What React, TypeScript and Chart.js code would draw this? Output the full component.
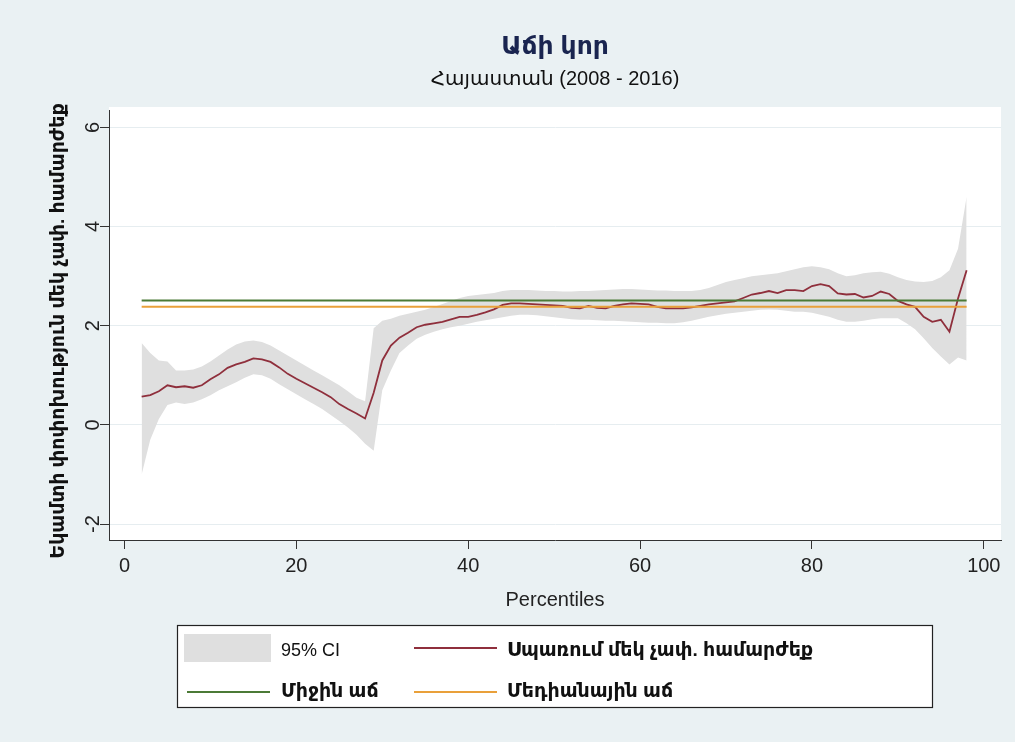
import React, { useEffect, useRef } from "react";
import { Chart, registerables } from "chart.js";

Chart.register(...registerables);

const titleText = "Աճի կոր";
const subtitleText = "Հայաստան (2008 - 2016)";
const yAxisTitle = "Եկամտի փոփոխություն մեկ չափ. համարժեք";
const xAxisTitle = "Percentiles";
const ciLabel = "95% CI";
const growthLabel = "Սպառում մեկ չափ. համարժեք";
const meanLabel = "Միջին աճ";
const medianLabel = "Մեդիանային աճ";

const xTicks = [0, 20, 40, 60, 80, 100];
const yTicks = [-2, 0, 2, 4, 6];

const percentiles = [
  2, 3, 4, 5, 6, 7, 8, 9, 10, 11,
  12, 13, 14, 15, 16, 17, 18, 19, 20, 21,
  22, 23, 24, 25, 26, 27, 28, 29, 30, 31,
  32, 33, 34, 35, 36, 37, 38, 39, 40, 41,
  42, 43, 44, 45, 46, 47, 48, 49, 50, 51,
  52, 53, 54, 55, 56, 57, 58, 59, 60, 61,
  62, 63, 64, 65, 66, 67, 68, 69, 70, 71,
  72, 73, 74, 75, 76, 77, 78, 79, 80, 81,
  82, 83, 84, 85, 86, 87, 88, 89, 90, 91,
  92, 93, 94, 95, 96, 97, 98,
];

const growthValues = [
  0.57, 0.60, 0.68, 0.80, 0.76, 0.78, 0.75, 0.80, 0.92, 1.02,
  1.15, 1.22, 1.27, 1.34, 1.32, 1.27, 1.16, 1.03, 0.93, 0.84,
  0.75, 0.66, 0.56, 0.42, 0.32, 0.23, 0.13, 0.65, 1.30, 1.60,
  1.76, 1.86, 1.97, 2.02, 2.05, 2.08, 2.13, 2.18, 2.18, 2.22,
  2.27, 2.33, 2.42, 2.45, 2.45, 2.44, 2.43, 2.42, 2.41, 2.40,
  2.36, 2.35, 2.40, 2.36, 2.35, 2.40, 2.43, 2.45, 2.44, 2.43,
  2.38, 2.35, 2.35, 2.35, 2.37, 2.40, 2.43, 2.45, 2.47, 2.49,
  2.56, 2.63, 2.66, 2.70, 2.66, 2.72, 2.72, 2.70, 2.80, 2.84,
  2.80, 2.65, 2.63, 2.64, 2.57, 2.60, 2.69, 2.64, 2.50, 2.43,
  2.38, 2.18, 2.08, 2.12, 1.88, 2.55, 3.12,
];

const ciUpper = [
  1.65, 1.45, 1.30, 1.28, 1.10, 1.10, 1.12, 1.18, 1.28, 1.40,
  1.52, 1.62, 1.68, 1.70, 1.67, 1.60, 1.50, 1.40, 1.30, 1.20,
  1.10, 1.00, 0.90, 0.80, 0.68, 0.55, 0.48, 1.95, 2.10, 2.14,
  2.20, 2.24, 2.28, 2.32, 2.38, 2.44, 2.50, 2.56, 2.60, 2.62,
  2.64, 2.66, 2.70, 2.72, 2.72, 2.72, 2.71, 2.70, 2.70, 2.69,
  2.69, 2.70, 2.70, 2.71, 2.72, 2.73, 2.74, 2.74, 2.73, 2.72,
  2.71, 2.71, 2.70, 2.70, 2.70, 2.72, 2.76, 2.82, 2.88, 2.92,
  2.96, 3.00, 3.02, 3.04, 3.06, 3.10, 3.14, 3.18, 3.20, 3.18,
  3.14, 3.06, 3.00, 3.02, 3.06, 3.08, 3.09, 3.05, 2.98, 2.92,
  2.89, 2.88, 2.90, 2.98, 3.12, 3.55, 4.60,
];

const ciLower = [
  -1.00, -0.30, 0.12, 0.40, 0.45, 0.42, 0.45, 0.52, 0.60, 0.70,
  0.78, 0.86, 0.95, 1.02, 1.00, 0.93, 0.82, 0.72, 0.62, 0.52,
  0.42, 0.32, 0.20, 0.08, -0.05, -0.20, -0.38, -0.52, 0.70, 1.10,
  1.45, 1.60, 1.74, 1.82, 1.88, 1.93, 1.97, 2.00, 2.04, 2.08,
  2.11, 2.14, 2.17, 2.20, 2.22, 2.22, 2.21, 2.19, 2.17, 2.15,
  2.13, 2.12, 2.12, 2.11, 2.10, 2.10, 2.09, 2.08, 2.07, 2.06,
  2.06, 2.05, 2.05, 2.07, 2.10, 2.14, 2.18, 2.21, 2.24, 2.26,
  2.28, 2.30, 2.32, 2.33, 2.32, 2.30, 2.28, 2.28, 2.26, 2.22,
  2.18, 2.12, 2.08, 2.08, 2.10, 2.13, 2.15, 2.15, 2.15, 2.05,
  1.93, 1.75, 1.55, 1.38, 1.22, 1.36, 1.30,
];

const meanGrowth = 2.51;
const medianGrowth = 2.385;

const FONT = "'Liberation Sans', 'DejaVu Sans', Arial, sans-serif";
const BG = "#eaf1f3";
const CI_COLOR = "#dfdfdf";
const RED = "#8f2f3c";
const GREEN = "#4b7a36";
const ORANGE = "#e9a03a";

const decorPlugin = {
  id: "decor",
  beforeDraw(chart: any) {
    const { ctx, chartArea: a, width, height } = chart;
    ctx.save();
    ctx.fillStyle = BG;
    ctx.fillRect(0, 0, width, height);
    ctx.fillStyle = "#ffffff";
    ctx.fillRect(a.left, a.top - 3, a.right - a.left, a.bottom - a.top + 3);
    ctx.restore();
  },
  afterDraw(chart: any) {
    const { ctx, chartArea: a, scales } = chart;
    const cx = (a.left + a.right) / 2;
    ctx.save();
    ctx.textAlign = "center";
    ctx.textBaseline = "middle";

    ctx.fillStyle = "#1a2550";
    ctx.font = `bold 25px ${FONT}`;
    ctx.fillText(titleText, cx, 47);

    ctx.fillStyle = "#111111";
    ctx.font = `20px ${FONT}`;
    ctx.fillText(subtitleText, cx, 79);

    ctx.fillStyle = "#222222";
    ctx.font = `20px ${FONT}`;
    for (const v of yTicks) {
      const y = scales.y.getPixelForValue(v);
      ctx.save();
      ctx.translate(93, y);
      ctx.rotate(-Math.PI / 2);
      ctx.fillText(String(v), 0, 0);
      ctx.restore();
    }

    ctx.save();
    ctx.translate(59, (a.top + a.bottom) / 2 + 6);
    ctx.rotate(-Math.PI / 2);
    ctx.font = `bold 19px ${FONT}`;
    ctx.fillStyle = "#111111";
    ctx.fillText(yAxisTitle, 0, 0);
    ctx.restore();

    ctx.font = `20px ${FONT}`;
    ctx.fillStyle = "#222222";
    ctx.fillText(xAxisTitle, cx, 600);

    // legend
    const bx = 177.5, by = 625.5, bw = 755, bh = 82;
    ctx.fillStyle = "#ffffff";
    ctx.fillRect(bx, by, bw, bh);
    ctx.strokeStyle = "#222222";
    ctx.lineWidth = 1.2;
    ctx.strokeRect(bx, by, bw, bh);

    const ds = chart.data.datasets;
    ctx.textAlign = "left";
    const row1 = 650, row2 = 692;
    ctx.fillStyle = ds[0].backgroundColor;
    ctx.fillRect(184, 634, 87, 28);
    ctx.fillStyle = "#111111";
    ctx.font = `18px ${FONT}`;
    ctx.fillText(ciLabel, 281, row1 + 1);

    const legendLine = (x: number, y: number, color: string) => {
      ctx.strokeStyle = color;
      ctx.lineWidth = 2;
      ctx.beginPath();
      ctx.moveTo(x, y);
      ctx.lineTo(x + 83, y);
      ctx.stroke();
    };
    ctx.font = `bold 19px ${FONT}`;
    legendLine(414, row1 - 2, ds[2].borderColor);
    ctx.fillStyle = "#111111";
    ctx.fillText(growthLabel, 507, row1 + 1);
    legendLine(187, row2, ds[3].borderColor);
    ctx.fillStyle = "#111111";
    ctx.fillText(meanLabel, 281, row2);
    legendLine(414, row2, ds[4].borderColor);
    ctx.fillStyle = "#111111";
    ctx.fillText(medianLabel, 507, row2);
    ctx.restore();
  },
};

export default function App() {
  const ref = useRef<HTMLCanvasElement | null>(null);

  useEffect(() => {
    document.body.style.margin = "0";
    const canvas = ref.current;
    if (!canvas) return;
    const pts = (vals: number[]) => percentiles.map((p, i) => ({ x: p, y: vals[i] }));
    const first = percentiles[0];
    const last = percentiles[percentiles.length - 1];

    const chart = new Chart(canvas, {
      type: "line",
      data: {
        datasets: [
          {
            label: ciLabel,
            data: pts(ciUpper),
            borderWidth: 0,
            borderColor: "rgba(0,0,0,0)",
            backgroundColor: CI_COLOR,
            pointRadius: 0,
            fill: "+1",
            order: 5,
          },
          {
            label: ciLabel + " lower",
            data: pts(ciLower),
            borderWidth: 0,
            borderColor: "rgba(0,0,0,0)",
            backgroundColor: CI_COLOR,
            pointRadius: 0,
            fill: false,
            order: 5,
          },
          {
            label: growthLabel,
            data: pts(growthValues),
            borderColor: RED,
            borderWidth: 1.8,
            pointRadius: 0,
            fill: false,
            order: 3,
          },
          {
            label: meanLabel,
            data: [
              { x: first, y: meanGrowth },
              { x: last, y: meanGrowth },
            ],
            borderColor: GREEN,
            borderWidth: 2,
            pointRadius: 0,
            fill: false,
            order: 2,
          },
          {
            label: medianLabel,
            data: [
              { x: first, y: medianGrowth },
              { x: last, y: medianGrowth },
            ],
            borderColor: ORANGE,
            borderWidth: 2,
            pointRadius: 0,
            fill: false,
            order: 1,
          },
        ],
      },
      options: {
        animation: false,
        responsive: false,
        devicePixelRatio: 1,
        layout: { padding: { top: 110, right: 14, left: 0, bottom: 0 } },
        plugins: {
          legend: { display: false },
          title: { display: false },
          tooltip: { enabled: false },
        },
        scales: {
          x: {
            type: "linear",
            min: -1.8,
            max: 102,
            afterBuildTicks: (s: any) => {
              s.ticks = xTicks.map((v) => ({ value: v }));
            },
            afterFit: (s: any) => {
              s.height = 202;
            },
            grid: {
              drawOnChartArea: false,
              drawTicks: true,
              tickLength: 9,
              tickColor: "#333333",
            },
            border: { display: true, color: "#333333", width: 1 },
            ticks: {
              font: { family: FONT, size: 20 },
              color: "#222222",
              padding: 5,
              maxRotation: 0,
              autoSkip: false,
            },
          },
          y: {
            type: "linear",
            min: -2.32,
            max: 6.35,
            afterBuildTicks: (s: any) => {
              s.ticks = yTicks.map((v) => ({ value: v }));
            },
            afterFit: (s: any) => {
              s.width = 109;
            },
            grid: {
              color: "#e6edf0",
              lineWidth: 1,
              drawTicks: true,
              tickLength: 9,
              tickColor: "#333333",
            },
            border: { display: true, color: "#333333", width: 1 },
            ticks: { display: false },
          },
        },
      },
      plugins: [decorPlugin],
    } as any);

    return () => chart.destroy();
  }, []);

  return (
    <div style={{ position: "absolute", left: 0, top: 0, width: 1015, height: 742 }}>
      <canvas ref={ref} width={1015} height={742} style={{ display: "block" }} />
    </div>
  );
}
